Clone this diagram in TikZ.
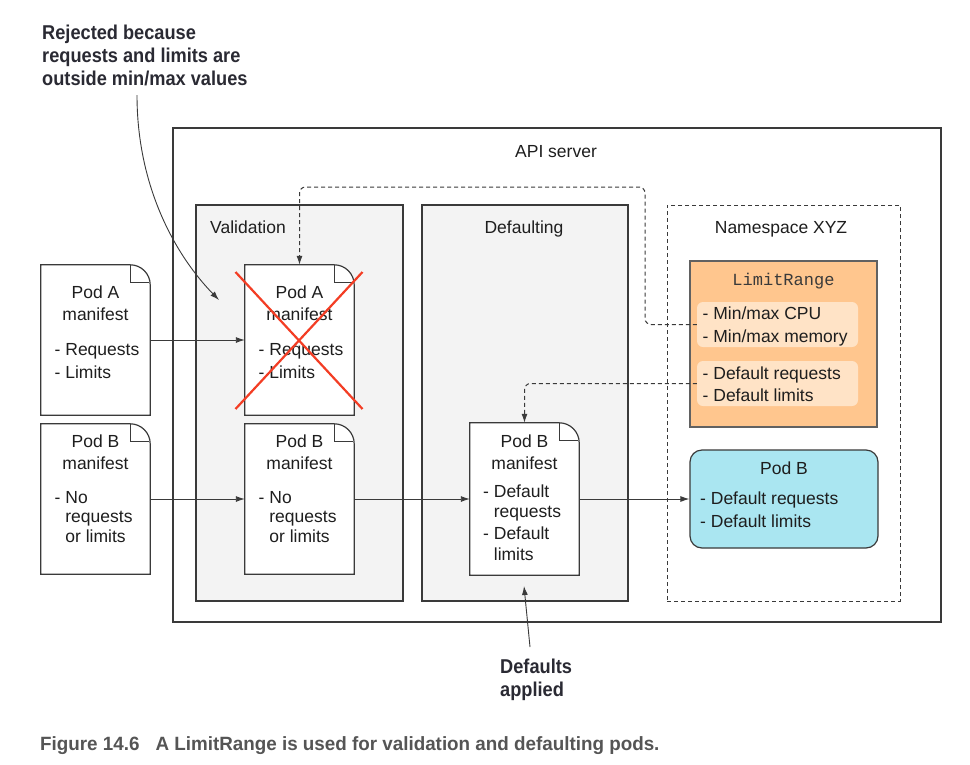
\documentclass[tikz,border=0pt]{standalone}
\usepackage{fontspec}
\setmainfont{Liberation Sans}
\setmonofont{Liberation Mono}
\newfontfamily\annot[FakeStretch=0.91]{Liberation Sans}
\newfontfamily\capfont[FakeStretch=0.98]{Liberation Sans}
\usetikzlibrary{arrows.meta,calc}
\definecolor{txt}{HTML}{1E1E1E}
\definecolor{lineC}{HTML}{3A3A3A}
\definecolor{boxgray}{HTML}{F3F3F3}
\definecolor{orangeF}{HTML}{FFC68E}
\definecolor{orangeL}{HTML}{FFE3C6}
\definecolor{blueF}{HTML}{AAE6F1}
\definecolor{redX}{HTML}{F33D24}
\definecolor{annC}{HTML}{2A2A33}
\definecolor{capC}{HTML}{555555}
\newcommand\rows[2][22.5]{\fontsize{17.5}{#1}\selectfont\begin{tabular}[t]{@{}l@{}}#2\end{tabular}}
\newcommand\crows[2][22]{\fontsize{17.5}{#1}\selectfont\begin{tabular}[t]{@{}c@{}}#2\end{tabular}}
\newcommand\hrows[2][20]{\fontsize{17.5}{#1}\selectfont\begin{tabular}[t]{@{}l@{ }l@{}}#2\end{tabular}}
\newcommand\docout[1]{%
  \filldraw[docline] (#1.north west) -- ($(#1.north east)+(-20,0)$)
    .. controls ($(#1.north east)+(-9,0)$) and ($(#1.north east)+(0,9)$) .. ($(#1.north east)+(0,20)$)
    -- (#1.south east) -- (#1.south west) -- cycle;
  \draw[docline] ($(#1.north east)+(-20,0)$) -- ($(#1.north east)+(-20,18)$) -- ($(#1.north east)+(-1,18)$);}
\begin{document}
\begin{tikzpicture}[x=1pt,y=-1pt,
  box/.style={draw=lineC, line width=1.2pt, inner sep=0pt},
  gbox/.style={box, fill=boxgray},
  docnode/.style={inner sep=0pt, minimum width=109, minimum height=150},
  docline/.style={draw=lineC, line width=1.2pt, fill=white},
  txtn/.style={inner sep=0pt, text=txt, font=\fontsize{17.5}{22}\selectfont},
  conn/.style={draw=lineC, line width=0.9pt, -{Latex[length=9pt,width=6pt]}},
  dconn/.style={conn, line width=1pt, dashed, dash pattern=on 4pt off 3pt, rounded corners=6pt},
  anntxt/.style={inner sep=0pt, text=annC, font=\annot\bfseries\fontsize{20}{23}\selectfont}]
\useasboundingbox (0,0) rectangle (970,764);
\fill[white] (0,0) rectangle (970,764);

% containers
\node[box, minimum width=768, minimum height=494] (api) at (557,375) {};
\node[gbox, minimum width=207, minimum height=396] (valid) at (299.5,403) {};
\node[gbox, minimum width=206, minimum height=396] (deflt) at (525,403) {};
\node[box, dashed, dash pattern=on 4pt off 3pt, line width=1pt, minimum width=233, minimum height=396] (ns) at (783.5,403) {};

\node[txtn, anchor=base] (apil) at (556,157) {API server};
\node[txtn, anchor=base] (validl) at (248,233) {Validation};
\node[txtn, anchor=base] (defltl) at (524,233) {Defaulting};
\node[txtn, anchor=base] (nsl) at (781,233) {Namespace XYZ};

% LimitRange
\node[box, draw=lineC!80, fill=orangeF, minimum width=187, minimum height=166] (lr) at (783.5,344) {};
\node[inner sep=0pt, text=lineC, font=\ttfamily\fontsize{17}{20}\selectfont, anchor=base] (lrl) at (783.5,285) {LimitRange};
\node[fill=orangeL, rounded corners=6pt, minimum width=161, minimum height=45, inner sep=0pt] (mm) at (777.5,324.5) {};
\node[fill=orangeL, rounded corners=6pt, minimum width=161, minimum height=45, inner sep=0pt] (dd) at (777.5,383.5) {};
\node[txtn, anchor=base west] (mmt) at (702.5,319.5) {\rows{- Min/max CPU\\- Min/max memory}};
\node[txtn, anchor=base west] (ddt) at (702.5,379) {\rows{- Default requests\\- Default limits}};

% Pod B running
\node[box, fill=blueF, rounded corners=12pt, minimum width=188, minimum height=98] (podb) at (784,499) {};
\node[txtn, anchor=base] (podbl) at (784,474) {Pod B};
\node[txtn, anchor=base west] (podbt) at (700,504.5) {\rows{- Default requests\\- Default limits}};

% documents
\node[docnode] (AL) at (95.5,340) {};
\node[docnode] (BL) at (95.5,499) {};
\node[docnode] (AV) at (299.5,340) {};
\node[docnode] (BV) at (299.5,499) {};
\node[docnode, minimum height=152] (BD) at (524.5,499) {};
\docout{AL}\docout{BL}\docout{AV}\docout{BV}\docout{BD}

\node[txtn, anchor=base] (ALt) at (95.5,298) {\crows{Pod A\\manifest}};
\node[txtn, anchor=base west] (ALl) at (54.5,355) {\rows[23]{- Requests\\- Limits}};
\node[txtn, anchor=base] (BLt) at (95.5,447) {\crows{Pod B\\manifest}};
\node[txtn, anchor=base west] (BLl) at (54.5,503) {\hrows[19.5]{-&No\\&requests\\&or limits}};

\node[txtn, anchor=base] (AVt) at (299.5,298) {\crows{Pod A\\manifest}};
\node[txtn, anchor=base west] (AVl) at (258.5,355) {\rows[23]{- Requests\\- Limits}};
\node[txtn, anchor=base] (BVt) at (299.5,447) {\crows{Pod B\\manifest}};
\node[txtn, anchor=base west] (BVl) at (258.5,503) {\hrows[19.5]{-&No\\&requests\\&or limits}};

\node[txtn, anchor=base] (BDt) at (524.5,447) {\crows{Pod B\\manifest}};
\node[txtn, anchor=base west] (BDl) at (483,497) {\hrows[20.5]{-&Default\\&requests\\[1.5pt]-&Default\\&limits}};

% red cross
\draw[redX, line width=2.2pt] ($(AV.center)+(-64,-68)$) -- ($(AV.center)+(63,69)$);
\draw[redX, line width=2.2pt] ($(AV.center)+(63,-68)$) -- ($(AV.center)+(-64,69)$);

% connectors
\draw[conn] (AL.east) -- (AV.west);
\draw[conn] (BL.east) -- (BV.west);
\draw[conn] (BV.east) -- (BD.west);
\draw[conn] (BD.east) -- (podb.west);
\draw[dconn] (mm.west) -- (645,324.5) -- (645,187) -- (299.5,187) -- (AV.north);
\draw[dconn] (dd.west) -- (524.5,383.5) -- (BD.north);

% annotations
\node[anntxt, anchor=base west] (rej) at (42,39.5) {\begin{tabular}[t]{@{}l@{}}Rejected because\\requests and limits are\\outside min/max values\end{tabular}};
\coordinate (rejS) at (137,95);
\coordinate (rejE) at (219,300);
\draw[conn] (rejS) .. controls (137,190) and (178,258) .. (rejE);

\node[anntxt, anchor=base west] (dap) at (500,673) {\begin{tabular}[t]{@{}l@{}}Defaults\\applied\end{tabular}};
\coordinate (dapS) at (530,647);
\coordinate (dapE) at (524,586);
\draw[conn] (dapS) -- (dapE);

\node[inner sep=0pt, text=capC, anchor=base west, font=\capfont\bfseries\fontsize{19.2}{22}\selectfont] (cap) at (40,750) {Figure 14.6\hspace{16pt}A LimitRange is used for validation and defaulting pods.};
\end{tikzpicture}
\end{document}
